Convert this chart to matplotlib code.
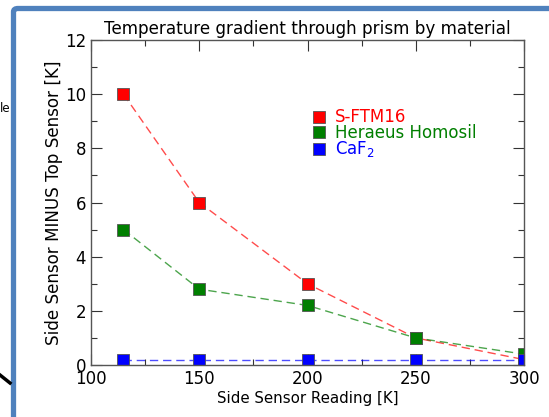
import matplotlib
matplotlib.use("Agg")
import matplotlib.pyplot as plt
from matplotlib.patches import FancyBboxPatch
from matplotlib.lines import Line2D

side_reading = [115, 150, 200, 250, 300]
sftm16 = [10.0, 6.0, 3.0, 1.0, 0.2]
homosil = [5.0, 2.8, 2.2, 1.0, 0.4]
caf2 = [0.2, 0.2, 0.2, 0.2, 0.2]

series = [
    ("S-FTM16", sftm16, "#ff0000"),
    ("Heraeus Homosil", homosil, "#007f00"),
    ("CaF$_2$", caf2, "#0000ff"),
]

fig = plt.figure(figsize=(5.49, 4.17), dpi=100)

# background frame of the screenshot
fig.patches.append(FancyBboxPatch((13.5 / 549, -0.1), 1.2, (1 - 8.5 / 417) + 0.1,
                                  boxstyle="round,pad=0,rounding_size=0.008",
                                  transform=fig.transFigure, fill=False,
                                  edgecolor="#4f81bd", linewidth=3.8, zorder=0))
fig.lines.append(Line2D([0 / 549, 10 / 549], [1 - 375 / 417, 1 - 383 / 417],
                        transform=fig.transFigure, color="black", linewidth=2.5))
fig.text(0 / 549, 1 - 109 / 417, "le", fontsize=8.5, va="center", ha="left")

ax = fig.add_axes([91 / 549, 1 - 365 / 417, 433 / 549, 325 / 417])
for name, vals, col in series:
    ax.plot(side_reading, vals, linestyle=(0, (6, 3.5)), color=col, alpha=0.7,
            linewidth=1.0)
for name, vals, col in series:
    ax.plot(side_reading, vals, linestyle="none", marker="s", markersize=8.5,
            markerfacecolor=col, markeredgecolor="#555555", markeredgewidth=0.6,
            label=name, clip_on=True)

ax.set_xlim(100, 300)
ax.set_ylim(0, 12)
ax.set_xticks([100, 150, 200, 250, 300])
ax.set_xticks([125, 175, 225, 275], minor=True)
ax.set_yticks(range(0, 13, 2))
ax.set_yticks(range(1, 12, 2), minor=True)
ax.tick_params(which="both", direction="in", top=True, right=True, colors="#333333",
               labelcolor="black", labelsize=12)
ax.tick_params(which="major", length=8, width=0.8)
ax.tick_params(which="minor", length=4, width=0.8)
for sp in ax.spines.values():
    sp.set_color("#555555")
    sp.set_linewidth(1.0)

ax.set_title("Temperature gradient through prism by material", fontsize=12.1, pad=4)
ax.set_xlabel("Side Sensor Reading [K]", fontsize=10.8, labelpad=2)
ax.set_ylabel("Side Sensor MINUS Top Sensor [K]", fontsize=12.1, labelpad=1)

leg = ax.legend(loc="upper left", bbox_to_anchor=(0.495, 0.81), frameon=False,
                numpoints=1, handlelength=0.8, handletextpad=0.6, labelspacing=-0.15,
                fontsize=12, borderaxespad=0)
for txt, (_, _, col) in zip(leg.get_texts(), series):
    txt.set_color(col)

fig.savefig("out.png", dpi=100)
